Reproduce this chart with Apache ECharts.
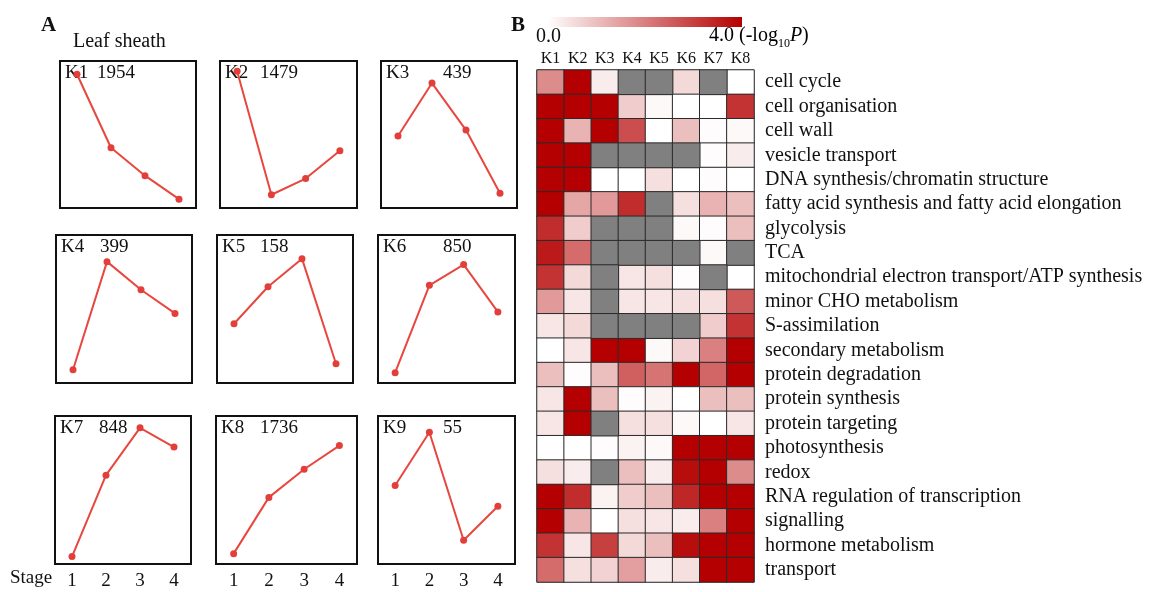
<!DOCTYPE html>
<html>
<head>
<meta charset="utf-8">
<script src="https://cdn.jsdelivr.net/npm/echarts@6/dist/echarts.min.js"></script>
<style>
html,body{margin:0;padding:0;background:#fff;}
#chart{width:1155px;height:592px;}
</style>
</head>
<body>
<div id="chart"></div>
<script>
// ---------- Panel A data ----------
const stages = ['1', '2', '3', '4'];
const clusters = ['K1', 'K2', 'K3', 'K4', 'K5', 'K6', 'K7', 'K8', 'K9'];
const geneCounts = [1954, 1479, 439, 399, 158, 850, 848, 1736, 55];
const profileK1 = [9.1, 4.1, 2.2, 0.6];
const profileK2 = [9.3, 0.9, 2.0, 3.9];
const profileK3 = [4.9, 8.5, 5.3, 1.0];
const profileK4 = [0.9, 8.2, 6.3, 4.7];
const profileK5 = [4.0, 6.5, 8.4, 1.3];
const profileK6 = [0.7, 6.6, 8.0, 4.8];
const profileK7 = [0.5, 6.0, 9.2, 7.9];
const profileK8 = [0.7, 4.5, 6.4, 8.0];
const profileK9 = [5.3, 8.9, 1.6, 3.9];
const profiles = [profileK1, profileK2, profileK3, profileK4, profileK5, profileK6, profileK7, profileK8, profileK9];

// ---------- Panel B data ----------
const modules = ['K1', 'K2', 'K3', 'K4', 'K5', 'K6', 'K7', 'K8'];
const categories = [
  'cell cycle', 'cell organisation', 'cell wall', 'vesicle transport',
  'DNA synthesis/chromatin structure', 'fatty acid synthesis and fatty acid elongation',
  'glycolysis', 'TCA', 'mitochondrial electron transport/ATP synthesis',
  'minor CHO metabolism', 'S-assimilation', 'secondary metabolism',
  'protein degradation', 'protein synthesis', 'protein targeting',
  'photosynthesis', 'redox', 'RNA regulation of transcription', 'signalling',
  'hormone metabolism', 'transport'
];
// -log10(P), null = not available (grey)
const negLogP = [
  [1.8, 4.0, 0.3, null, null, 0.6, null, 0.0],
  [4.0, 4.0, 4.0, 0.8, 0.1, 0.0, 0.0, 3.2],
  [4.0, 1.2, 4.0, 2.8, 0.0, 1.0, 0.05, 0.1],
  [4.0, 4.0, null, null, null, null, 0.05, 0.3],
  [4.0, 4.0, 0.0, 0.0, 0.5, 0.0, 0.05, 0.0],
  [4.0, 1.4, 1.6, 3.3, null, 0.5, 1.2, 1.0],
  [3.3, 0.8, null, null, null, 0.1, 0.05, 1.0],
  [3.6, 2.3, null, null, null, null, 0.1, null],
  [3.2, 0.6, null, 0.4, 0.5, 0.05, null, 0.0],
  [1.6, 0.4, null, 0.4, 0.4, 0.5, 0.5, 2.6],
  [0.4, 0.6, null, null, null, null, 0.8, 3.2],
  [0.0, 0.4, 4.0, 4.0, 0.1, 0.7, 2.0, 4.0],
  [1.0, 0.05, 1.0, 2.5, 2.2, 4.0, 2.4, 4.0],
  [0.4, 4.0, 1.0, 0.05, 0.2, 0.0, 1.0, 1.0],
  [0.4, 4.0, null, 0.5, 0.5, 0.1, 0.0, 0.4],
  [0.0, 0.0, 0.05, 0.2, 0.1, 4.0, 4.0, 4.0],
  [0.5, 0.3, null, 1.0, 0.3, 3.8, 4.0, 1.8],
  [4.0, 3.3, 0.2, 0.8, 1.0, 3.4, 4.0, 4.0],
  [4.0, 1.2, 0.0, 0.5, 0.4, 0.3, 2.0, 4.0],
  [3.2, 0.4, 3.0, 0.6, 1.0, 3.8, 4.0, 4.0],
  [2.3, 0.5, 0.7, 1.5, 0.3, 0.5, 4.0, 4.0]
];
const colorbarTicks = ['0.0', '4.0'];

// ---------- layout (positions only) ----------
const boxes = [
  [60, 61, 136, 147], [220, 61, 137, 147], [381, 61, 136, 147],
  [56, 235, 136, 148], [217, 235, 136, 148], [378, 235, 137, 148],
  [55, 416, 136, 148], [216, 416, 141, 148], [378, 416, 137, 148]
];
const countOffsets = [37, 40, 62, 44, 43, 65, 44, 44, 65];

const SERIF = '"Liberation Serif", "Times New Roman", serif';
const chart = echarts.init(document.getElementById('chart'));

const grids = [], xAxes = [], yAxes = [], series = [], graphics = [];
boxes.forEach((b, i) => {
  grids.push({left: b[0], top: b[1], width: b[2], height: b[3], show: true,
    borderColor: '#111', borderWidth: 2, backgroundColor: 'transparent'});
  const bottomRow = i >= 6;
  xAxes.push({type: 'category', gridIndex: i, data: stages, boundaryGap: true,
    axisLine: {show: false}, axisTick: {show: false}, splitLine: {show: false},
    axisLabel: {show: bottomRow, interval: 0, margin: 8, fontFamily: SERIF, fontSize: 19, color: '#111'}});
  yAxes.push({type: 'value', gridIndex: i, min: 0, max: 10, show: false});
  series.push({type: 'line', xAxisIndex: i, yAxisIndex: i, data: profiles[i],
    symbol: 'circle', symbolSize: 7, silent: true,
    lineStyle: {color: '#e8473f', width: 2}, itemStyle: {color: '#e23f3b'}});
  graphics.push({type: 'text', left: b[0] + 5, top: b[1] + 3,
    style: {text: clusters[i], fontFamily: SERIF, fontSize: 19, fill: '#111'}});
  graphics.push({type: 'text', left: b[0] + countOffsets[i], top: b[1] + 3,
    style: {text: String(geneCounts[i]), fontFamily: SERIF, fontSize: 19, fill: '#111'}});
});

// heatmap grid
const HG = grids.length;
grids.push({left: 537, top: 70, width: 217, height: 512, show: true,
  backgroundColor: 'transparent', borderColor: '#999', borderWidth: 1});
xAxes.push({type: 'category', gridIndex: HG, data: modules, position: 'top',
  axisLine: {show: false}, axisTick: {show: false}, splitLine: {show: false},
  axisLabel: {interval: 0, margin: 3, fontFamily: SERIF, fontSize: 16, color: '#111'}});
yAxes.push({type: 'category', gridIndex: HG, data: categories, inverse: true, position: 'right',
  axisLine: {show: false}, axisTick: {show: false}, splitLine: {show: false},
  axisLabel: {interval: 0, margin: 11, fontFamily: SERIF, fontSize: 20, color: '#111'}});

const heatData = [], missingData = [];
negLogP.forEach((row, r) => row.forEach((v, c) => {
  if (v === null) missingData.push([c, r, 0]);
  else heatData.push([c, r, v]);
}));
const heatIndex = series.length;
series.push({type: 'heatmap', xAxisIndex: HG, yAxisIndex: HG, data: heatData, silent: true,
  itemStyle: {borderColor: '#2a2a2a', borderWidth: 1}, emphasis: {disabled: true}});
series.push({type: 'heatmap', xAxisIndex: HG, yAxisIndex: HG, data: missingData, silent: true,
  itemStyle: {color: '#808080', borderColor: '#2a2a2a', borderWidth: 1}, emphasis: {disabled: true}});

// colour bar + labels
graphics.push({type: 'rect', shape: {x: 547, y: 17, width: 195, height: 10},
  style: {fill: new echarts.graphic.LinearGradient(0, 0, 1, 0, [
    {offset: 0, color: '#ffffff'}, {offset: 1, color: '#b40000'}])}});
graphics.push({type: 'text', left: 536, top: 27,
  style: {text: colorbarTicks[0], fontFamily: SERIF, fontSize: 20, fill: '#111'}});
graphics.push({type: 'text', left: 709, top: 26,
  style: {text: '{a|' + colorbarTicks[1] + ' (-log}{s|10}{i|P}{a|)}',
    rich: {
      a: {fontFamily: SERIF, fontSize: 20, color: '#111', lineHeight: 22, verticalAlign: 'top'},
      i: {fontFamily: SERIF, fontSize: 20, fontStyle: 'italic', color: '#111', lineHeight: 22, verticalAlign: 'top'},
      s: {fontFamily: SERIF, fontSize: 12, color: '#111', padding: [12, 0, 0, 0], verticalAlign: 'top'}
    }}});
graphics.push({type: 'text', left: 41, top: 15,
  style: {text: 'A', fontFamily: SERIF, fontSize: 21, fontWeight: 'bold', fill: '#111'}});
graphics.push({type: 'text', left: 511, top: 15,
  style: {text: 'B', fontFamily: SERIF, fontSize: 21, fontWeight: 'bold', fill: '#111'}});
graphics.push({type: 'text', left: 73, top: 32,
  style: {text: 'Leaf sheath', fontFamily: SERIF, fontSize: 20, fill: '#111'}});
graphics.push({type: 'text', left: 10, top: 569,
  style: {text: 'Stage', fontFamily: SERIF, fontSize: 19, fill: '#111'}});

chart.setOption({
  animation: false,
  backgroundColor: '#fff',
  grid: grids,
  xAxis: xAxes,
  yAxis: yAxes,
  visualMap: {type: 'continuous', show: false, min: 0, max: 4, seriesIndex: heatIndex,
    inRange: {color: ['#ffffff', '#b40000']}},
  series: series,
  graphic: graphics
});
</script>
</body>
</html>
